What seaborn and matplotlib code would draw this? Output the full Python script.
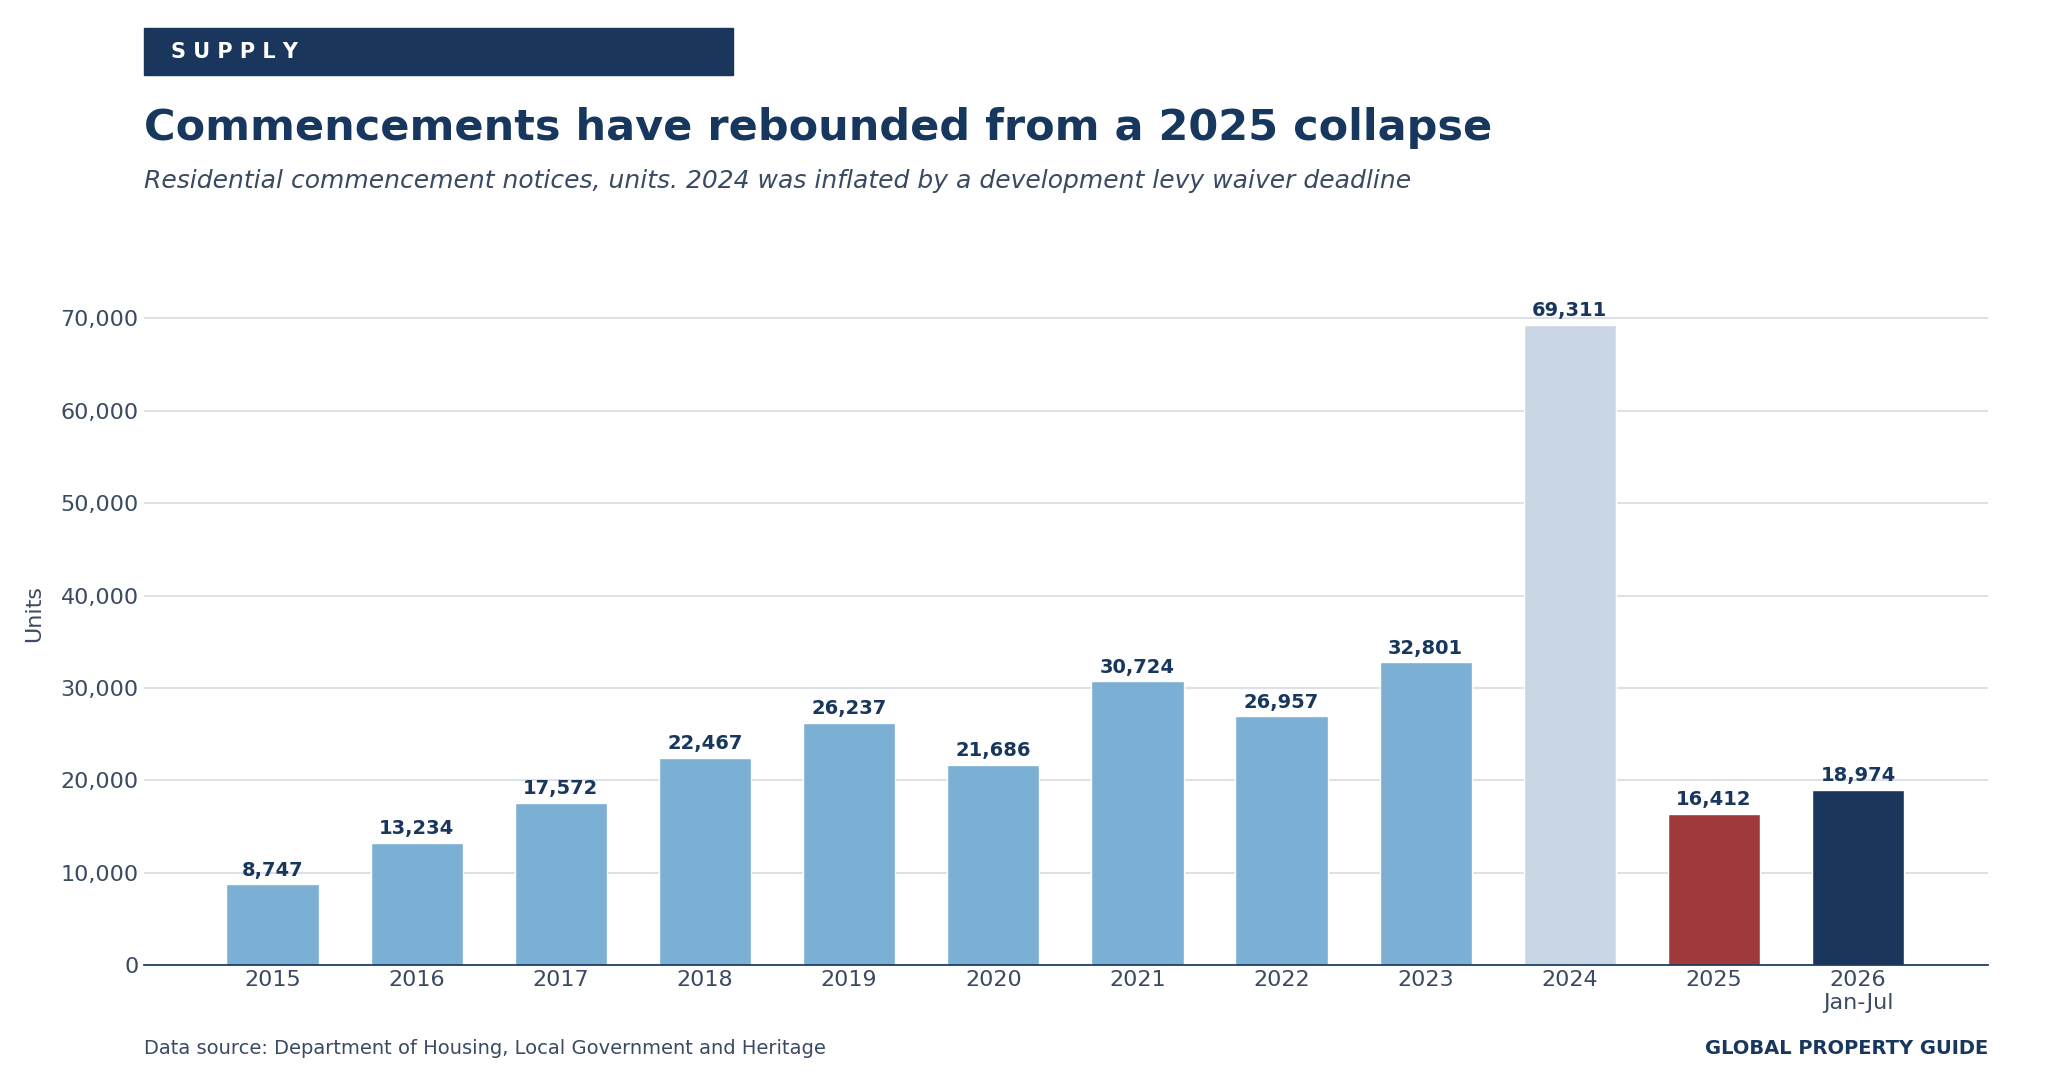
import matplotlib
matplotlib.use("Agg")
import matplotlib.pyplot as plt
import seaborn as sns
import pandas as pd
from matplotlib.patches import Rectangle

categories = ["2015","2016","2017","2018","2019","2020","2021","2022","2023","2024","2025","2026\nJan-Jul"]
values = [8747,13234,17572,22467,26237,21686,30724,26957,32801,69311,16412,18974]
colors = ["#7bafd4"]*9 + ["#c9d6e3", "#a03a3a", "#1a365d"]

sns.set_theme(style="white")
plt.rcParams['font.family'] = ['DejaVu Sans']
navy = "#17375e"
grey = "#3a4a63"

fig = plt.figure(figsize=(20.6, 10.9), dpi=100)
ax = fig.add_axes([0.070, 0.1145, 0.895, 0.645])
df = pd.DataFrame({"cat": categories, "val": values})
sns.barplot(data=df, x="cat", y="val", hue="cat", palette=colors, legend=False, width=0.64, ax=ax, saturation=1)
ax.set_xlim(-0.89, 11.9)
ax.set_ylim(0, 76100)
ax.set_yticks(range(0, 70001, 10000))
ax.yaxis.set_major_formatter(matplotlib.ticker.FuncFormatter(lambda v, p: f"{int(v):,}"))
ax.grid(axis="y", color="#d5dbe3", linewidth=1.2)
ax.set_axisbelow(True)
for s in ["top", "right", "left"]:
    ax.spines[s].set_visible(False)
ax.spines["bottom"].set_color(navy)
ax.tick_params(axis="both", labelsize=16, colors=grey, length=0)
ax.tick_params(axis="y", pad=4)
ax.set_xlabel("")
ax.set_ylabel("Units", fontsize=16, color=grey, labelpad=12)
for i, v in enumerate(values):
    ax.text(i, v + 500, f"{v:,}", ha="center", va="bottom", fontsize=14, fontweight="bold", color=navy)

fig.patches.append(Rectangle((0.070, 0.931), 0.286, 0.043, transform=fig.transFigure, color="#1a365d"))
fig.text(0.083, 0.952, "S U P P L Y", fontsize=15, fontweight="bold", color="white", va="center")
fig.text(0.070, 0.883, "Commencements have rebounded from a 2025 collapse", fontsize=31, fontweight="bold", color=navy, va="center")
fig.text(0.070, 0.834, "Residential commencement notices, units. 2024 was inflated by a development levy waiver deadline", fontsize=18, style="italic", color=grey, va="center")
fig.text(0.070, 0.038, "Data source: Department of Housing, Local Government and Heritage", fontsize=14, color=grey, va="center")
fig.text(0.965, 0.038, "GLOBAL PROPERTY GUIDE", fontsize=14, fontweight="bold", color=navy, va="center", ha="right")
fig.savefig("out.png", dpi=100)
